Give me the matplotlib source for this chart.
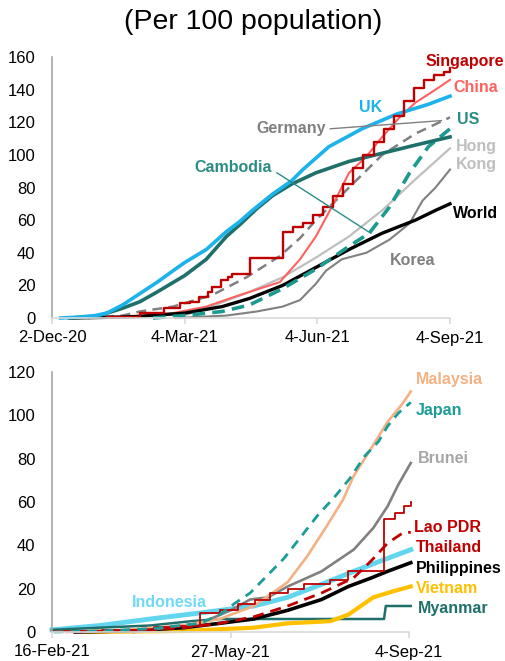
import matplotlib
matplotlib.use("Agg")
import matplotlib.pyplot as plt
import pandas as pd

plt.rcParams['font.family'] = ['Liberation Sans', 'DejaVu Sans']

# ---------------- Top panel data (doses per 100 population) ----------------
UK_D = ["2020-12-08", "2020-12-20", "2021-01-01", "2021-01-09", "2021-01-20", "2021-02-01", "2021-02-13",
        "2021-02-24", "2021-03-04", "2021-03-19", "2021-04-02", "2021-04-11", "2021-04-20", "2021-05-04",
        "2021-05-17", "2021-05-25", "2021-06-12", "2021-07-05", "2021-07-29", "2021-08-20", "2021-09-04"]
UK_V = [0, 0.5, 1.5, 3, 8, 15, 22, 29, 34, 42, 53, 59, 66, 76, 84, 91, 105, 116, 125, 131, 136]

US_D = ["2020-12-14", "2021-01-02", "2021-01-20", "2021-02-01", "2021-02-13", "2021-03-04", "2021-03-19",
        "2021-04-02", "2021-04-11", "2021-04-23", "2021-05-04", "2021-05-17", "2021-06-03", "2021-06-26",
        "2021-07-19", "2021-08-11", "2021-09-04"]
US_V = [0, 1, 6, 10, 16, 26, 36, 50, 57, 67, 75, 82, 89, 96, 101, 106, 111]

GER_D = ["2020-12-27", "2021-01-20", "2021-02-01", "2021-02-24", "2021-03-23", "2021-04-16", "2021-05-09",
         "2021-05-23", "2021-06-03", "2021-06-26", "2021-07-19", "2021-08-11", "2021-09-04"]
GER_V = [0, 1.5, 4, 7, 14, 25, 38, 49, 60, 80, 100, 113, 123]

SG_D = ["2021-01-09", "2021-02-01", "2021-02-18", "2021-03-01", "2021-03-08", "2021-03-14", "2021-03-20",
        "2021-03-23", "2021-03-29", "2021-04-03", "2021-04-06", "2021-04-18", "2021-05-11", "2021-05-18",
        "2021-05-25", "2021-06-01", "2021-06-08", "2021-06-15", "2021-06-22", "2021-06-29", "2021-07-06",
        "2021-07-13", "2021-07-20", "2021-07-27", "2021-08-03", "2021-08-10", "2021-08-17", "2021-08-24",
        "2021-08-31", "2021-09-04"]
SG_V = [0.5, 3, 6, 9, 10, 13, 16, 19, 23, 25, 27, 37, 53, 56, 58, 63, 68, 75, 82, 92, 100, 108, 116, 124,
        133, 141, 146, 149, 151, 153]

CHN_D = ["2021-01-25", "2021-02-24", "2021-03-19", "2021-04-11", "2021-05-09", "2021-05-23", "2021-06-03",
         "2021-06-14", "2021-06-26", "2021-07-08", "2021-07-19", "2021-07-31", "2021-08-11", "2021-08-25",
         "2021-09-04"]
CHN_V = [1, 3, 7, 14, 22, 36, 50, 68, 89, 99, 111, 123, 132, 140, 146]

HK_D = ["2021-02-26", "2021-03-19", "2021-04-18", "2021-05-11", "2021-06-03", "2021-06-26", "2021-07-19",
        "2021-08-11", "2021-09-04"]
HK_V = [0, 6, 16, 25, 37, 50, 66, 85, 104]

KH_D = ["2021-02-10", "2021-03-04", "2021-03-30", "2021-04-18", "2021-05-11", "2021-06-03", "2021-06-26",
        "2021-07-10", "2021-07-24", "2021-08-07", "2021-08-20", "2021-09-04"]
KH_V = [0, 1.5, 4, 8, 18, 30, 44, 52, 68, 89, 105, 116]

WLD_D = ["2020-12-15", "2021-01-15", "2021-02-01", "2021-03-04", "2021-03-30", "2021-04-18", "2021-05-11",
         "2021-06-03", "2021-06-26", "2021-07-19", "2021-08-11", "2021-08-25", "2021-09-04"]
WLD_V = [0, 0.5, 1, 3, 7, 12, 20, 31, 42, 52, 60, 66, 70]

KOR_D = ["2021-02-26", "2021-04-02", "2021-04-23", "2021-05-11", "2021-05-23", "2021-06-03", "2021-06-10",
         "2021-06-21", "2021-07-08", "2021-07-24", "2021-08-07", "2021-08-16", "2021-08-25", "2021-09-04"]
KOR_V = [0, 1.5, 4, 7, 11, 21, 29, 36, 40, 48, 58, 72, 80, 91]

TOP_TICKS = ["2020-12-02", "2021-03-04", "2021-06-04", "2021-09-04"]
TOP_TICKLABELS = ["2-Dec-20", "4-Mar-21", "4-Jun-21", "4-Sep-21"]

# ---------------- Bottom panel data ----------------
MYS_D = ["2021-02-24", "2021-03-30", "2021-04-30", "2021-05-21", "2021-06-09", "2021-06-28", "2021-07-09",
         "2021-07-20", "2021-07-29", "2021-08-04", "2021-08-14", "2021-08-23", "2021-08-31", "2021-09-05"]
MYS_V = [0, 1, 3, 6, 12, 23, 35, 49, 61, 72, 85, 97, 105, 111]

JPN_D = ["2021-02-17", "2021-03-15", "2021-04-12", "2021-05-10", "2021-05-21", "2021-05-29", "2021-06-07",
         "2021-06-26", "2021-07-15", "2021-07-24", "2021-08-02", "2021-08-10", "2021-08-18", "2021-08-23",
         "2021-08-29", "2021-09-05"]
JPN_V = [0, 0.5, 1.5, 4, 8, 13, 18, 34, 54, 62, 71, 81, 88, 95, 101, 106]

BRN_D = ["2021-04-03", "2021-05-10", "2021-05-27", "2021-06-07", "2021-06-17", "2021-06-28", "2021-07-17",
         "2021-08-04", "2021-08-15", "2021-08-23", "2021-08-29", "2021-09-05"]
BRN_V = [0, 4, 10, 15, 16, 21, 28, 38, 48, 58, 68, 78]

LAO_D = ["2021-02-16", "2021-03-16", "2021-04-14", "2021-04-28", "2021-05-10", "2021-05-21", "2021-05-31",
         "2021-06-10", "2021-06-18", "2021-06-28", "2021-07-07", "2021-07-22", "2021-08-01", "2021-08-21",
         "2021-08-27", "2021-09-01", "2021-09-05"]
LAO_V = [0.5, 1, 2.5, 3, 9, 10, 13, 15, 18, 20, 22, 24, 28, 52, 55, 58, 60]

THA_D = ["2021-02-28", "2021-03-30", "2021-05-01", "2021-05-21", "2021-06-09", "2021-06-28", "2021-07-17",
         "2021-08-04", "2021-08-14", "2021-08-23", "2021-09-01", "2021-09-05"]
THA_V = [0, 0.5, 2, 4, 7, 12, 18, 25, 33, 41, 46, 46]

IDN_D = ["2021-02-16", "2021-03-15", "2021-04-12", "2021-05-12", "2021-06-09", "2021-06-28", "2021-07-17",
         "2021-08-04", "2021-08-23", "2021-09-05"]
IDN_V = [1, 3, 6, 9, 12, 16, 22, 28, 34, 38]

PHL_D = ["2021-03-01", "2021-03-30", "2021-05-01", "2021-05-21", "2021-06-09", "2021-06-28", "2021-07-17",
         "2021-08-01", "2021-08-14", "2021-08-23", "2021-09-05"]
PHL_V = [0, 0.5, 2, 4, 6, 10, 15, 21, 25, 28, 32]

VNM_D = ["2021-03-08", "2021-05-01", "2021-06-09", "2021-06-28", "2021-07-22", "2021-08-01", "2021-08-08",
         "2021-08-15", "2021-08-27", "2021-09-05"]
VNM_V = [0, 0.5, 2, 4, 5, 8, 12, 16, 19, 21]

MMR_D = ["2021-02-16", "2021-03-15", "2021-04-12", "2021-05-05", "2021-05-21", "2021-08-21", "2021-08-22",
         "2021-09-05"]
MMR_V = [1, 2, 3, 5, 6, 6, 12, 12]

BOT_TICKS = ["2021-02-16", "2021-05-27", "2021-09-04"]
BOT_TICKLABELS = ["16-Feb-21", "27-May-21", "4-Sep-21"]

# ---------------- Figure ----------------
W, H = 506, 661
fig = plt.figure(figsize=(W / 100, H / 100), dpi=100)
ax1 = fig.add_axes([52 / W, 1 - 318 / H, 398 / W, 261 / H])
ax2 = fig.add_axes([52 / W, 1 - 632 / H, 357 / W, 260 / H])

fig.text(0.5, 1 - 22 / H, "(Per 100 population)", ha="center", va="center", fontsize=20.5)

D = pd.to_datetime


def style_axes(ax, ticks, labels, ymax):
    for s in ["top", "right"]:
        ax.spines[s].set_visible(False)
    ax.spines["left"].set_color("#A6A6A6")
    ax.spines["left"].set_linewidth(1.2)
    ax.spines["bottom"].set_color("#D9D9D9")
    ax.spines["bottom"].set_linewidth(1.2)
    ax.set_ylim(0, ymax)
    ax.set_yticks(range(0, ymax + 1, 20))
    ax.tick_params(axis="y", length=0, pad=12, labelsize=12)
    ax.set_xticks(D(ticks))
    ax.set_xticklabels(labels)
    ax.tick_params(axis="x", length=4, color="#D9D9D9", width=1.2, pad=5, labelsize=12)
    ax.set_xlim(D(ticks[0]), D(ticks[-1]))


style_axes(ax1, TOP_TICKS, TOP_TICKLABELS, 160)
style_axes(ax2, BOT_TICKS, BOT_TICKLABELS, 120)

TEAL_LBL = "#2A8C85"

# top lines
ax1.plot(D(HK_D), HK_V, color="#BFBFBF", lw=1.6, clip_on=False)
ax1.plot(D(KOR_D), KOR_V, color="#808080", lw=1.5, clip_on=False)
ax1.plot(D(GER_D), GER_V, color="#808080", lw=1.8, ls=(0, (4, 2.5)), clip_on=False)
ax1.plot(D(CHN_D), CHN_V, color="#FF6161", lw=1.5, clip_on=False)
ax1.plot(D(WLD_D), WLD_V, color="#000000", lw=2.4, clip_on=False)
ax1.plot(D(KH_D), KH_V, color="#1C9A90", lw=2.6, ls=(0, (3.5, 2)), clip_on=False)
ax1.plot(D(US_D), US_V, color="#1F6F6B", lw=2.6, clip_on=False)
ax1.plot(D(UK_D), UK_V, color="#1CB2EC", lw=2.6, clip_on=False)
ax1.plot(D(SG_D), SG_V, color="#C00000", lw=1.7, drawstyle="steps-post", clip_on=False)

lbl = dict(fontsize=11.5, fontweight="bold", ha="left", va="center", clip_on=False)
ax1.text(D("2021-08-18"), 157, "Singapore", color="#C00000", **lbl)
ax1.text(D("2021-09-06"), 141, "China", color="#FF6161", **lbl)
ax1.text(D("2021-07-03"), 129, "UK", color="#1CB2EC", **lbl)
ax1.text(D("2021-04-23"), 116, "Germany", color="#808080", **lbl)
ax1.text(D("2021-09-09"), 121.5, "US", color=TEAL_LBL, **lbl)
ax1.text(D("2021-09-08"), 105, "Hong", color="#BFBFBF", **lbl)
ax1.text(D("2021-09-08"), 94, "Kong", color="#BFBFBF", **lbl)
ax1.text(D("2021-09-06"), 64, "World", color="#000000", **lbl)
ax1.text(D("2021-07-24"), 35, "Korea", color="#808080", **lbl)
ax1.text(D("2021-03-11"), 92, "Cambodia", color=TEAL_LBL, **lbl)
ax1.plot(D(["2021-06-13", "2021-08-29"]), [116, 121], color="#808080", lw=1.0)
ax1.plot(D(["2021-05-07", "2021-07-11"]), [89, 52], color="#2A8C85", lw=1.0)

# bottom lines
ax2.plot(D(IDN_D), IDN_V, color="#62D5EF", lw=3.5, clip_on=False)
ax2.plot(D(MMR_D), MMR_V, color="#1F6F6B", lw=1.8, clip_on=False)
ax2.plot(D(VNM_D), VNM_V, color="#FFC000", lw=3.0, clip_on=False)
ax2.plot(D(PHL_D), PHL_V, color="#000000", lw=2.6, clip_on=False)
ax2.plot(D(BRN_D), BRN_V, color="#808080", lw=1.9, clip_on=False)
ax2.plot(D(MYS_D), MYS_V, color="#F4B183", lw=1.9, clip_on=False)
ax2.plot(D(THA_D), THA_V, color="#C00000", lw=2.0, ls=(0, (4, 2.5)), clip_on=False)
ax2.plot(D(LAO_D), LAO_V, color="#C00000", lw=1.3, drawstyle="steps-post", clip_on=False)
ax2.plot(D(JPN_D), JPN_V, color="#1A9C97", lw=2.0, ls=(0, (3.5, 2.5)), clip_on=False)

ax2.text(D("2021-09-08"), 116.7, "Malaysia", color="#F4B183", **lbl)
ax2.text(D("2021-09-08"), 102.4, "Japan", color="#1A9C97", **lbl)
ax2.text(D("2021-09-09"), 80.3, "Brunei", color="#A6A6A6", **lbl)
ax2.text(D("2021-09-07"), 48, "Lao PDR", color="#C00000", **lbl)
ax2.text(D("2021-09-08"), 38.8, "Thailand", color="#C00000", **lbl)
ax2.text(D("2021-09-08"), 29.5, "Philippines", color="#000000", **lbl)
ax2.text(D("2021-09-08"), 20.3, "Vietnam", color="#FFC000", **lbl)
ax2.text(D("2021-09-09"), 11, "Myanmar", color="#1F6F6B", **lbl)
ax2.text(D("2021-04-02"), 13.8, "Indonesia", color="#6FDAF2", **lbl)

fig.savefig("out.png", dpi=100)
